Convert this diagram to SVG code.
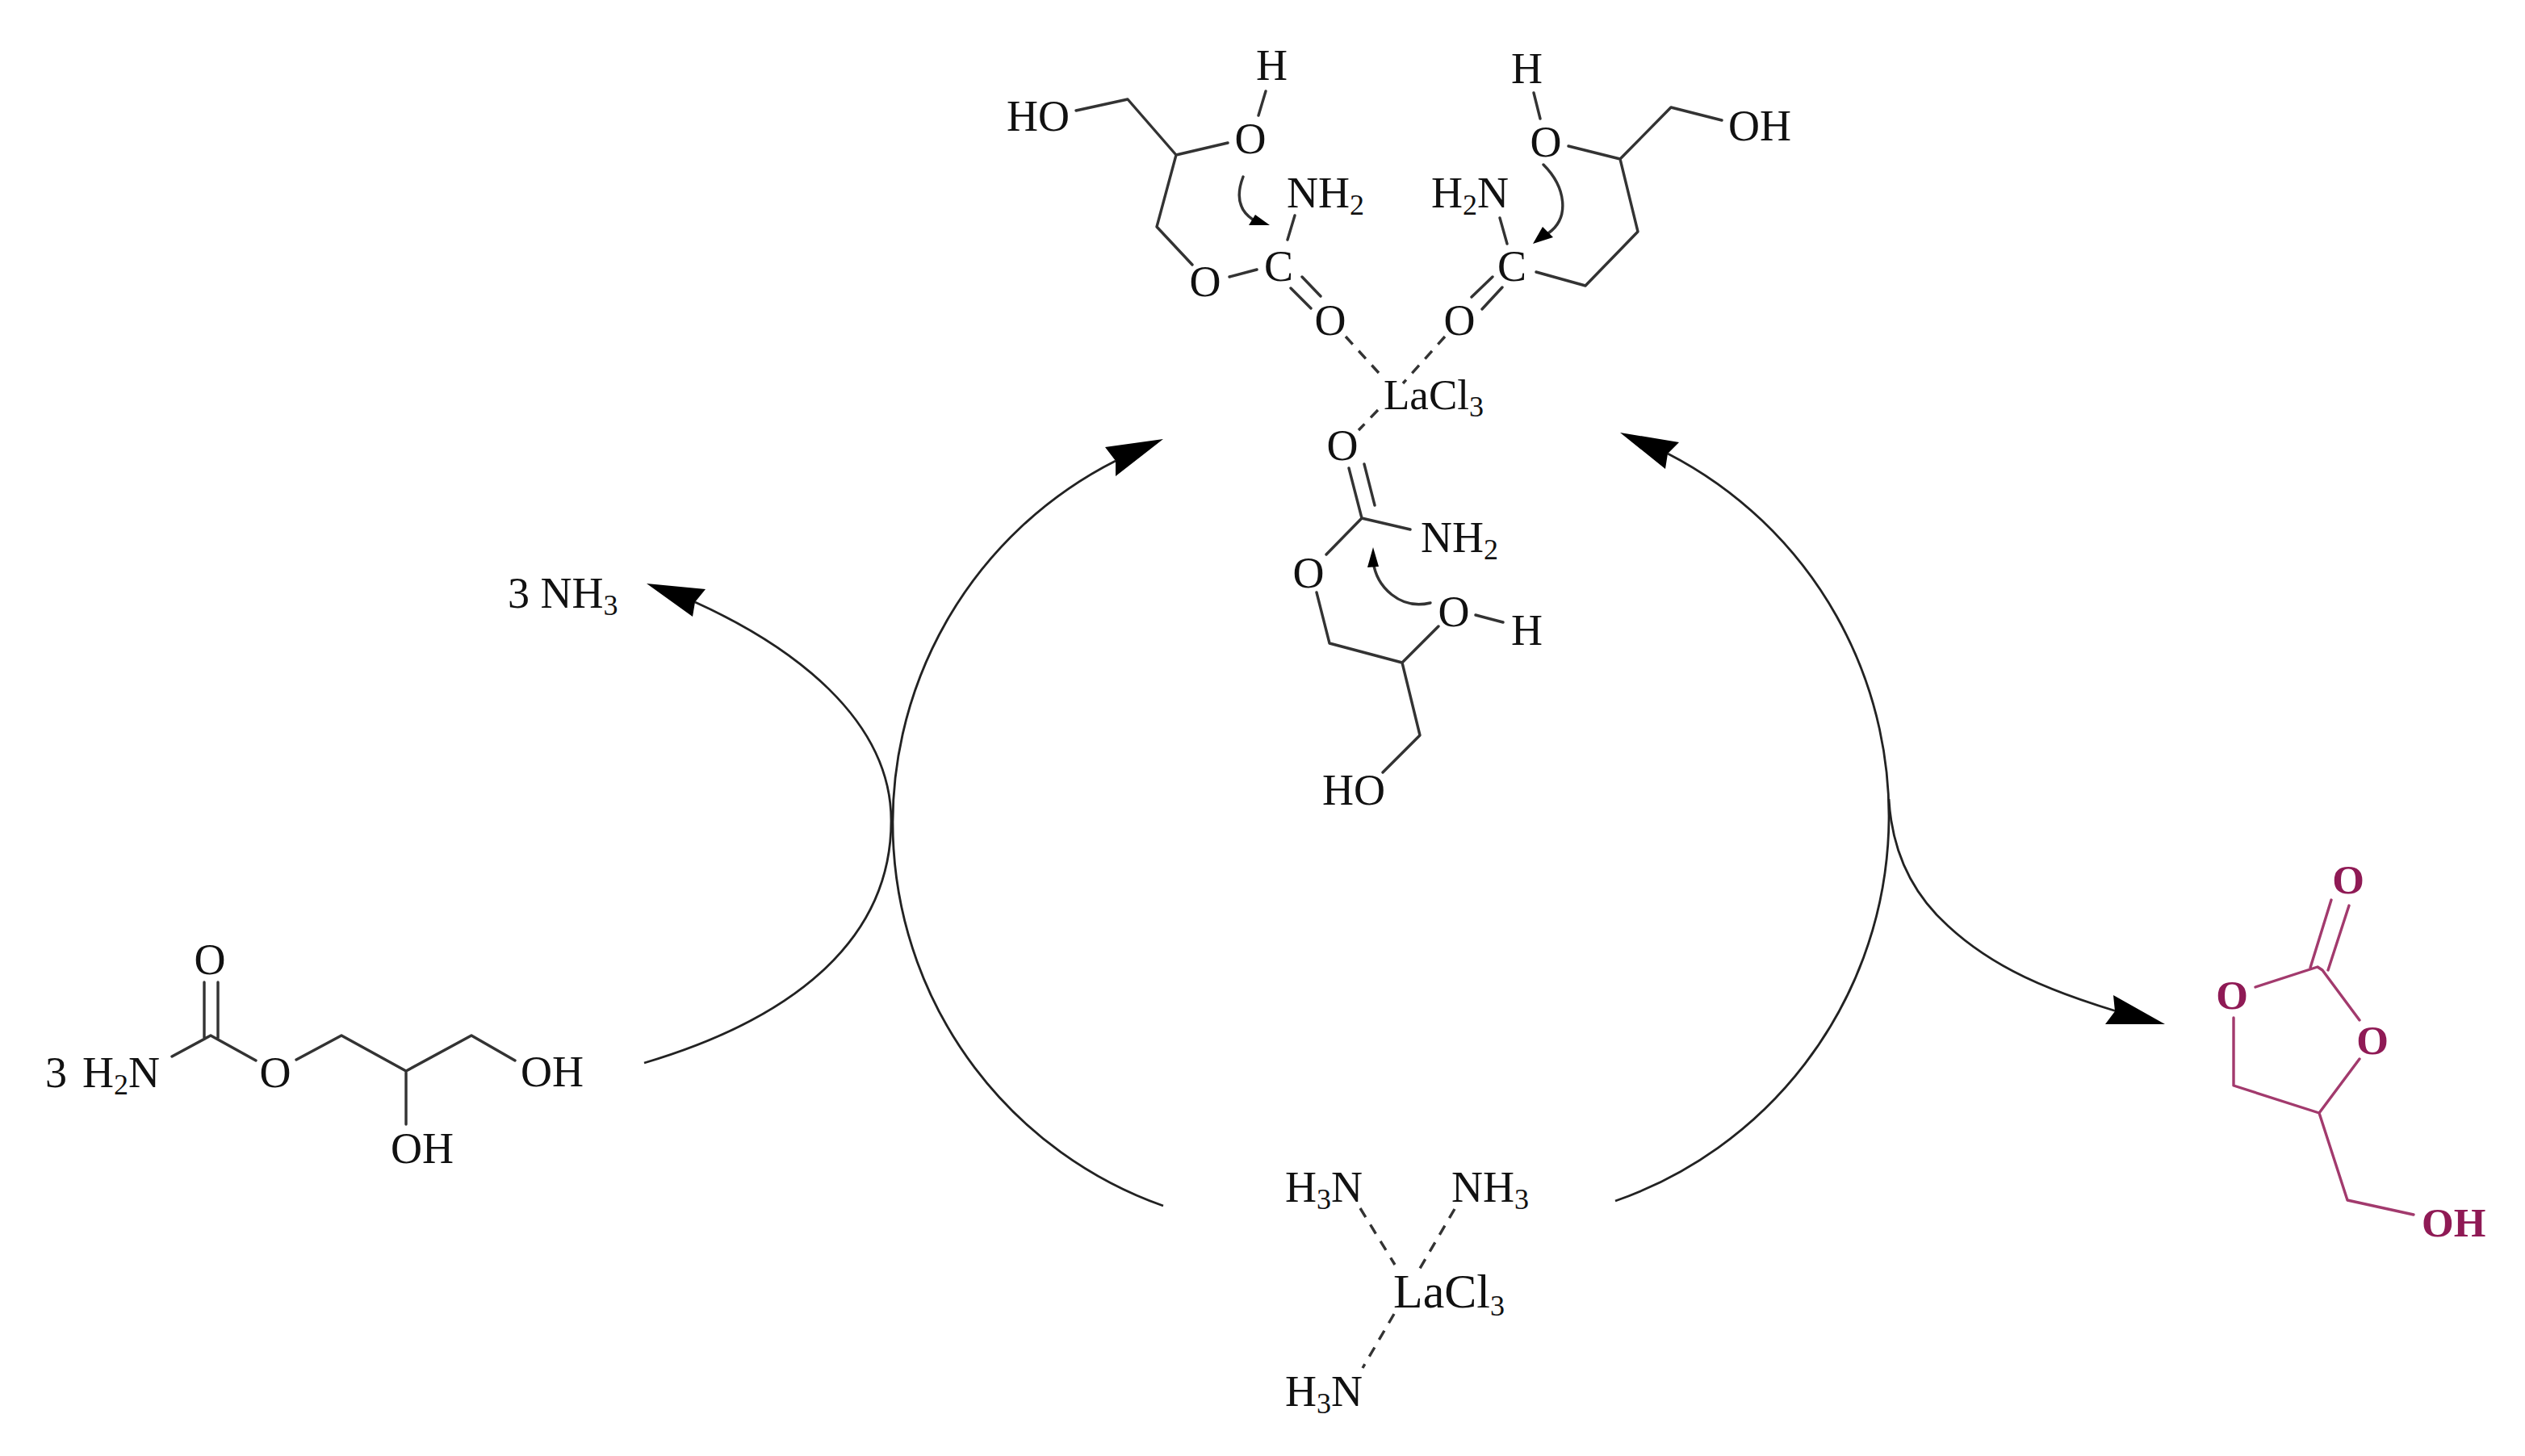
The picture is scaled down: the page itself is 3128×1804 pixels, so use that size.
<svg xmlns="http://www.w3.org/2000/svg" width="3128" height="1804" viewBox="0 0 3128 1804">
<defs><style>
text{font-family:"Liberation Serif","Times New Roman",serif;font-size:54px;fill:#111}
.sub{font-size:36px}
.big{font-size:60px}
.mid{font-size:53px}
.bond{fill:none;stroke:#333;stroke-width:3.4;stroke-linecap:round;stroke-linejoin:round}
.dash{fill:none;stroke:#333;stroke-width:3.4;stroke-dasharray:13 11}
.arc{fill:none;stroke:#222;stroke-width:2.8}
.head{fill:#000;stroke:none}
.pb{fill:none;stroke:#a23a6d;stroke-width:3.4;stroke-linecap:round;stroke-linejoin:round}
.pt{fill:#8f1a55;font-weight:bold;font-size:51px}
</style></defs>
<rect width="3128" height="1804" fill="#fff"/>
<g id="connectors">
<path class="arc" d="M1441 1494A503 503 0 0 1 1382 571"/>
<path class="head" d="M1441 544L1369 554L1382 571L1382 590Z"/>
<path class="arc" d="M798 1317C990 1260 1104 1160 1104 1017C1104 890 980 800 861 746"/>
<path class="head" d="M801 723L874 730L861 746L858 764Z"/>
<path class="arc" d="M2001 1488A505 505 0 0 0 2066 562"/>
<path class="head" d="M2007 536L2080 548L2066 562L2063 581Z"/>
<path class="arc" d="M2340 990C2344 1060 2372 1110 2413 1147C2470 1200 2540 1228 2622 1253"/>
<path class="head" d="M2682 1269L2608 1269L2620 1253L2618 1233Z"/>
</g>
<g id="node-top-left">
<path class="bond" d="M1333 137L1397 123L1457 192L1521 177M1457 192L1433 281L1477 328M1559 143L1568 113M1523 343L1557 334M1604 267L1595 297M1599 357L1624 382M1613 343L1636 367"/>
<path class="bond" d="M1540 219C1530 245 1537 262 1552 272"/>
<path class="head" d="M1573 279L1547 279L1555 266Z"/>
<text x="1247" y="162">HO</text><text x="1556" y="99">H</text><text x="1529.500" y="190">O</text>
<text x="1594" y="257">NH<tspan class="sub" dy="9">2</tspan></text>
<text x="1473.500" y="367">O</text><text x="1566" y="348">C</text><text x="1628.500" y="415">O</text>
</g>
<g id="node-top-right">
<path class="bond" d="M1903 337L1964 354L2029 287L2007 197L2070 133L2133 149M2007 197L1943 181M1908 147L1900 115M1858 270L1867 302M1823 368L1849 343M1836 383L1861 356"/>
<path class="bond" d="M1912 204C1940 232 1945 270 1918 289"/>
<path class="head" d="M1899 302L1911 281L1924 294Z"/>
<text x="1872" y="103">H</text><text x="2141" y="174">OH</text><text x="1895.500" y="194">O</text>
<text x="1773" y="257">H<tspan class="sub" dy="9">2</tspan><tspan dy="-9">N</tspan></text>
<text x="1855" y="348">C</text><text x="1788.500" y="415">O</text>
</g>
<g id="node-lacl3-top">
<path class="dash" d="M1667 417L1708 462M1790 417L1738 475M1707 508L1683 533"/>
<text class="mid" x="1714" y="507">LaCl<tspan class="sub" dy="9">3</tspan></text>
</g>
<g id="node-top-bottom">
<path class="bond" d="M1671 580L1687 642L1747 656M1690 575L1703 626M1687 642L1643 687M1631 734L1647 797L1737 821L1782 776M1828 762L1862 771M1737 821L1759 911L1713 957"/>
<path class="bond" d="M1772 747C1735 756 1705 728 1701 695"/>
<path class="head" d="M1701 678L1708 702L1694 703Z"/>
<text x="1643.500" y="570">O</text><text x="1760" y="684">NH<tspan class="sub" dy="9">2</tspan></text>
<text x="1601.500" y="728">O</text><text x="1781.500" y="776">O</text><text x="1872" y="799">H</text><text x="1638" y="997">HO</text>
</g>
<g id="node-ammonia-out"><text x="629" y="753">3 NH<tspan class="sub" dy="9">3</tspan></text></g>
<g id="node-substrate">
<path class="bond" d="M213 1309L261 1283L317 1314M253 1217V1286M270 1217V1286M367 1313L423 1283L503 1327L584 1283L638 1314M503 1327V1393"/>
<text x="56" y="1347">3</text>
<text x="102" y="1347">H<tspan class="sub" dy="9">2</tspan><tspan dy="-9">N</tspan></text>
<text x="240.500" y="1207">O</text><text x="321.500" y="1347">O</text><text x="645" y="1346">OH</text><text x="484" y="1441">OH</text>
</g>
<g id="node-product">
<path class="pb" d="M2888 1115L2862 1199M2910 1122L2884 1202M2794 1223L2871 1198L2877 1202L2923 1264M2767 1261V1345L2873 1379L2923 1312M2873 1379L2908 1487L2990 1505"/>
<text class="pt" x="2909" y="1107" text-anchor="middle">O</text>
<text class="pt" x="2765" y="1250" text-anchor="middle">O</text>
<text class="pt" x="2939" y="1306" text-anchor="middle">O</text>
<text class="pt" x="3000" y="1532">OH</text>
</g>
<g id="node-catalyst">
<path class="dash" d="M1685 1497L1728 1567M1802 1498L1757 1575M1727 1628L1688 1695"/>
<text x="1592" y="1489">H<tspan class="sub" dy="9">3</tspan><tspan dy="-9">N</tspan></text>
<text x="1798" y="1489">NH<tspan class="sub" dy="9">3</tspan></text>
<text class="big" x="1726" y="1620">LaCl<tspan class="sub" dy="10">3</tspan></text>
<text x="1592" y="1742">H<tspan class="sub" dy="9">3</tspan><tspan dy="-9">N</tspan></text>
</g>
</svg>
